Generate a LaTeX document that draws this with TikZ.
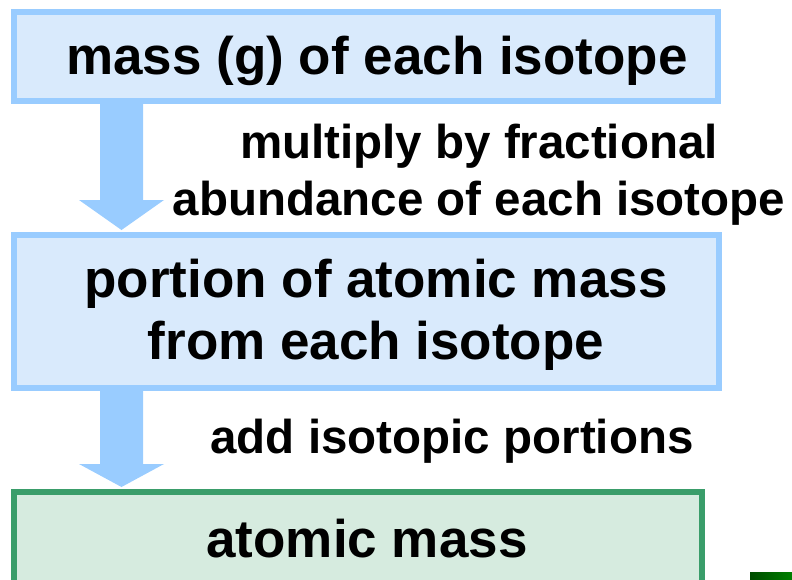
\documentclass[tikz,border=0pt]{standalone}
\usepackage{fontspec}
\setmainfont{Liberation Sans}
\begin{document}
\begin{tikzpicture}[x=1pt,y=-1pt,
  bluebox/.style={draw=boxblue, fill=boxbluefill, line width=6pt, inner sep=0pt},
  greenbox/.style={draw=boxgreen, fill=boxgreenfill, line width=6pt, inner sep=0pt},
  boxtext/.style={font=\fontsize{53}{62}\selectfont\bfseries, align=center, inner sep=0pt},
  steplabel/.style={font=\fontsize{47.5}{57}\selectfont\bfseries, align=center, inner sep=0pt},
  blockarrow/.style={fill=arrowblue, draw=none}]
\definecolor{boxblue}{HTML}{99CCFF}
\definecolor{boxbluefill}{HTML}{D9EAFC}
\definecolor{boxgreen}{HTML}{3A9D6A}
\definecolor{boxgreenfill}{HTML}{D6EBDF}
\definecolor{arrowblue}{HTML}{99CCFF}
\useasboundingbox (0,0) rectangle (792,579);
\clip (0,0) rectangle (792,579);
% boxes
\node[bluebox, minimum width=704pt, minimum height=89pt] (b1) at (366,56.5) {};
\node[boxtext] (t1) at (377,61) {mass (g) of each isotope};
\node[bluebox, minimum width=705pt, minimum height=153pt] (b2) at (366.5,311.5) {};
\node[boxtext] (t2) at (376,315) {portion of atomic mass\\from each isotope};
\node[greenbox, minimum width=688pt, minimum height=140pt] (b3) at (358,562) {};
\node[boxtext] (t3) at (367,539) {atomic mass};
% block arrows
\coordinate (a1top) at (121.5,104);
\coordinate (a1tip) at (121.5,230);
\fill[blockarrow] ([xshift=-21.5pt]a1top) -- ([xshift=21.5pt]a1top) -- (143,200) -- (164,200)
  -- (a1tip) -- (79,200) -- (100,200) -- cycle;
\coordinate (a2top) at (121.5,391);
\coordinate (a2tip) at (121.5,487);
\fill[blockarrow] ([xshift=-21.5pt]a2top) -- ([xshift=21.5pt]a2top) -- (143,464) -- (164,464)
  -- (a2tip) -- (79,464) -- (100,464) -- cycle;
% labels
\node[steplabel] (l1) at (479,175) {multiply by fractional\\abundance of each isotope};
\node[steplabel] (l2) at (452,441) {add isotopic portions};
% corner bar
\shade[left color=green!30!black, right color=green!50!black] (750,572) rectangle (792,579);
\end{tikzpicture}
\end{document}
